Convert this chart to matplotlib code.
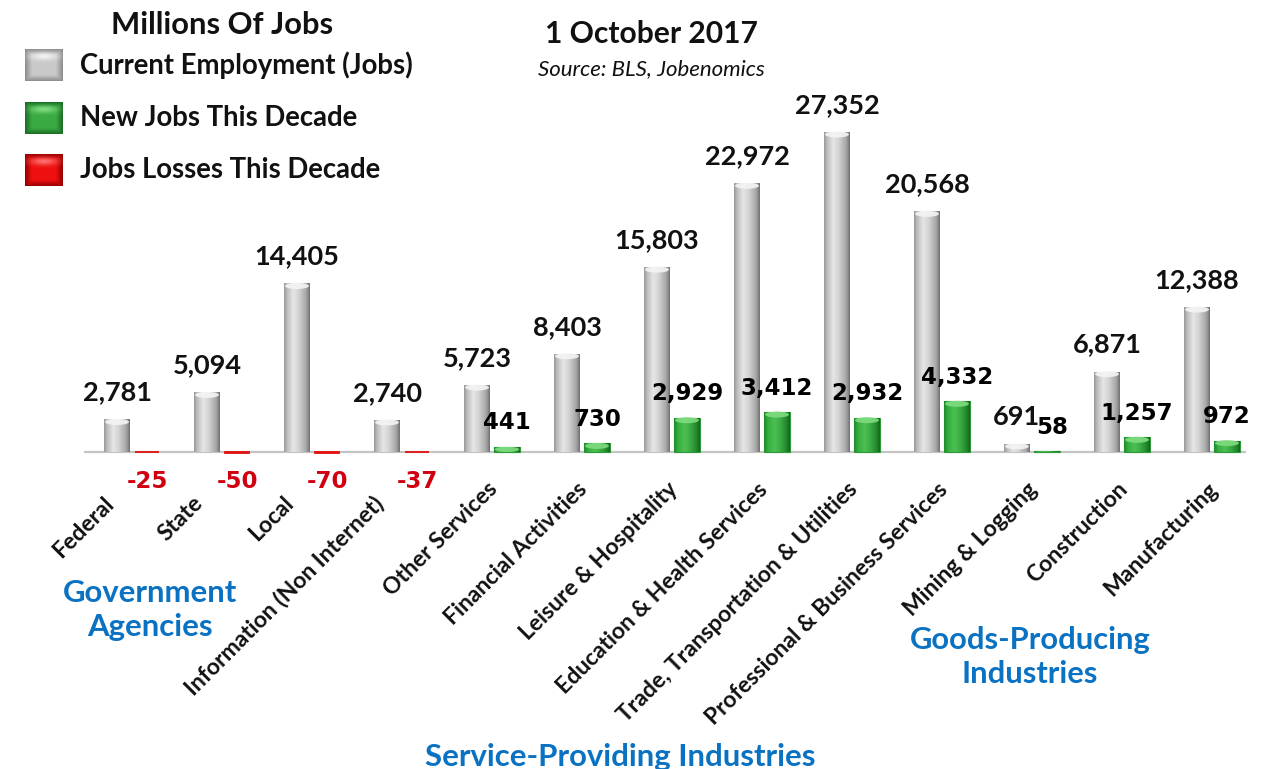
import numpy as np
import matplotlib
matplotlib.use("Agg")
import matplotlib.pyplot as plt
from matplotlib.patches import Ellipse

# ---- data (thousands of jobs) ----
categories = [
    "Federal", "State", "Local", "Information (Non Internet)", "Other Services",
    "Financial Activities", "Leisure & Hospitality", "Education & Health Services",
    "Trade, Transportation & Utilities", "Professional & Business Services",
    "Mining & Logging", "Construction", "Manufacturing",
]
current_jobs = [2781, 5094, 14405, 2740, 5723, 8403, 15803, 22972, 27352, 20568, 691, 6871, 12388]
decade_change = [-25, -50, -70, -37, 441, 730, 2929, 3412, 2932, 4332, 58, 1257, 972]

W, H = 1264, 769
fig = plt.figure(figsize=(W / 100, H / 100), dpi=100)
fig.patch.set_facecolor("white")
ax = fig.add_axes([0, 0, 1, 1])
ax.set_axis_off()

# pixel geometry of the plotting frame
spacing = 90.0
x0_px = 132.0
base_px = 452.0
k = 27352 / 320.0          # jobs per pixel
ax.set_xlim(-x0_px / spacing, (W - x0_px) / spacing)
ax.set_ylim(-(H - base_px) * k, base_px * k)

xpos = np.arange(len(categories))
off = 15 / spacing
bw = 26 / spacing

LATO = "Lato"
VERD = "DejaVu Sans"


def cyl_profile(stops):
    t = np.linspace(0, 1, 64)
    pos = [s[0] for s in stops]
    cols = np.array([matplotlib.colors.to_rgb(s[1]) for s in stops])
    rgb = np.stack([np.interp(t, pos, cols[:, c]) for c in range(3)], axis=-1)
    return rgb[None, :, :]


gray_prof = cyl_profile([(0, "#9a9a9a"), (0.12, "#bdbdbd"), (0.35, "#e6e6e6"),
                         (0.55, "#d6d6d6"), (0.85, "#a8a8a8"), (0.94, "#8a8a8a"), (1, "#6e6e6e")])
green_prof = cyl_profile([(0, "#1f8a2b"), (0.15, "#35ad3f"), (0.4, "#4cc052"),
                          (0.65, "#3aaa42"), (0.88, "#22862c"), (1, "#15651e")])
red_prof = cyl_profile([(0, "#c00000"), (0.4, "#ff2020"), (1, "#a00000")])


def shade(bars, prof, cap_color):
    for b in bars:
        x, y = b.get_x(), b.get_y()
        w, h = b.get_width(), b.get_height()
        im = ax.imshow(prof, extent=(x, x + w, min(y, y + h), max(y, y + h)),
                       aspect="auto", zorder=3, interpolation="bilinear")
        im.set_clip_path(b)
        if h > 7 * k:
            ax.add_patch(Ellipse((x + w / 2, y + h - 2.5 * k), w * 0.92, 6 * k,
                                 facecolor=cap_color, edgecolor="none", zorder=4, alpha=0.9))
        elif h > 3 * k:
            ax.add_patch(Ellipse((x + w / 2, y + h / 2), w * 0.95, h,
                                 facecolor=cap_color, edgecolor="none", zorder=4, alpha=0.9))


gray_bars = ax.bar(xpos - off, current_jobs, bw, color="#c8c8c8", zorder=2)
shade(gray_bars, gray_prof, "#f4f4f4")

gain_idx = [i for i, v in enumerate(decade_change) if v > 0]
loss_idx = [i for i, v in enumerate(decade_change) if v < 0]
green_bars = ax.bar(xpos[gain_idx] + off, [decade_change[i] for i in gain_idx], bw,
                    color="#3aaa42", edgecolor="#2f9a38", linewidth=0.8, zorder=2)
shade(green_bars, green_prof, "#7fdc7f")
red_bars = ax.bar(xpos[loss_idx] + off, [decade_change[i] for i in loss_idx], bw * 0.9,
                  color="#e01010", edgecolor="#e01010", linewidth=1.3, zorder=2)

# baseline
ax.axhline(0, xmin=85 / W, xmax=1245 / W, color="#c4c4c4", lw=1.6, zorder=1)

# value labels
for xi, v in zip(xpos, current_jobs):
    ax.annotate(f"{v:,}", (xi - off, v), xytext=(0, 27), textcoords="offset pixels",
                ha="center", va="center", fontsize=19.5, fontweight="bold",
                family=LATO, color="#111111", zorder=6)
for xi, v in zip(xpos, decade_change):
    if v > 0:
        dx = 5 if v < 100 else 0
        ax.annotate(f"{v:,}", (xi + off, v), xytext=(dx, 24), textcoords="offset pixels",
                    ha="center", va="center", fontsize=16.5, fontweight="bold",
                    family=VERD, color="#000000", zorder=6)
    else:
        ax.annotate(f"{v:,}", (xi + off, 0), xytext=(0, -30), textcoords="offset pixels",
                    ha="center", va="center", fontsize=16.5, fontweight="bold",
                    family=VERD, color="#d00010", zorder=6)

# category labels, rotated 45 degrees
for xi, name in enumerate(categories):
    dx, dy = (2, -34) if xi >= 4 else (-22, -48)
    ax.annotate(name, (xi, 0), xytext=(dx, dy), textcoords="offset pixels",
                ha="right", va="center", rotation=45, rotation_mode="anchor",
                fontsize=16.5, fontweight="bold", family=LATO, color="#111111")

# group captions
blue = "#0a72c2"


def fig_txt(x, y, s, **kw):
    fig.text(x / W, 1 - y / H, s, **kw)


fig_txt(150, 610, "Government\nAgencies", ha="center", va="center", fontsize=22.4,
        fontweight="bold", family=LATO, color=blue, linespacing=1.25)
fig_txt(1030, 657, "Goods-Producing\nIndustries", ha="center", va="center", fontsize=22.2,
        fontweight="bold", family=LATO, color=blue, linespacing=1.25)
fig_txt(620, 757, "Service-Providing Industries", ha="center", va="center", fontsize=22.4,
        fontweight="bold", family=LATO, color=blue)

# titles
fig_txt(651, 34, "1 October 2017", ha="center", va="center", fontsize=21.6,
        fontweight="bold", family=LATO, color="#111111")
fig_txt(651, 69, "Source: BLS, Jobenomics", ha="center", va="center", fontsize=16,
        style="italic", family=LATO, color="#111111")

# legend
fig_txt(222, 25, "Millions Of Jobs", ha="center", va="center", fontsize=22.2,
        fontweight="bold", family=LATO, color="#111111")


def icon(light, mid, dark):
    n = 40
    yy, xx = np.mgrid[0:n, 0:n] / (n - 1)
    edge = np.minimum.reduce([xx, 1 - xx, yy, 1 - yy])
    f = np.clip(edge / 0.18, 0, 1)
    cl, cm, cd = (np.array(matplotlib.colors.to_rgb(c)) for c in (light, mid, dark))
    img = cd * (1 - f[..., None]) + cm * f[..., None]
    # lighter band near the top
    band = np.exp(-((yy - 0.22) / 0.12) ** 2) * np.exp(-((xx - 0.5) / 0.35) ** 2)
    img = img * (1 - band[..., None]) + cl * band[..., None]
    return img


legend_items = [
    ("Current Employment (Jobs)", icon("#f2f2f2", "#c9c9c9", "#8f8f8f"), 65),
    ("New Jobs This Decade", icon("#7fdc7f", "#3aaa42", "#1b6e25"), 118),
    ("Jobs Losses This Decade", icon("#ff7070", "#ee1010", "#9a0000"), 170),
]
for label, img, yc in legend_items:
    iax = fig.add_axes([25 / W, 1 - (yc + 16) / H, 38 / W, 32 / H])
    iax.imshow(img, aspect="auto", interpolation="bilinear")
    iax.set_axis_off()
    fig_txt(80, yc, label, ha="left", va="center", fontsize=19.8,
            fontweight="bold", family=LATO, color="#111111")

fig.savefig("out.png", dpi=100, facecolor="white")
